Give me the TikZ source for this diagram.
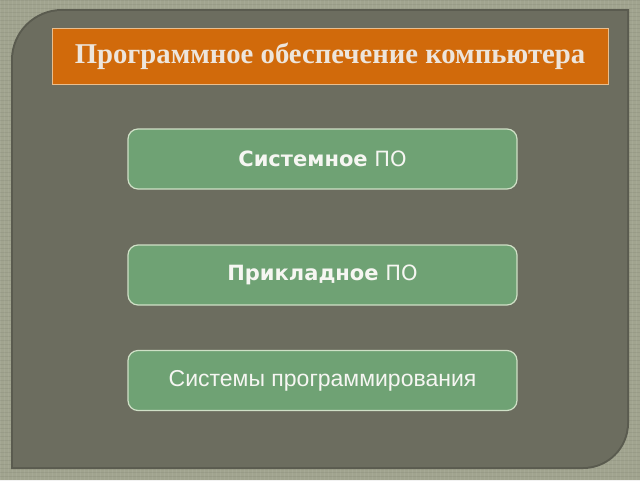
\documentclass[tikz,border=0pt]{standalone}
\usepackage{fontspec}
\setmainfont{Liberation Serif}
\newfontfamily\djv{DejaVu Sans}
\newfontfamily\lib{Liberation Sans}
\definecolor{bgc}{HTML}{A1A48F}
\definecolor{panelc}{HTML}{6C6D5F}
\definecolor{paneledge}{HTML}{5A5B4F}
\definecolor{titlec}{HTML}{D16A0B}
\definecolor{titleedge}{HTML}{E9BE8E}
\definecolor{titletext}{HTML}{EDE5DC}
\definecolor{boxc}{HTML}{6FA274}
\definecolor{boxedge}{HTML}{CFE0C6}
\definecolor{boxtext}{HTML}{F6F6F2}
\tikzset{
  itembox/.style={draw=boxedge, line width=1.2pt, fill=boxc, rounded corners=10pt,
    minimum width=389pt, minimum height=60pt, inner sep=0pt, text=boxtext},
  titlebox/.style={draw=titleedge, line width=1pt, fill=titlec,
    minimum width=556pt, minimum height=56pt, inner sep=0pt, text=titletext,
    font=\fontsize{28.7}{32}\selectfont\bfseries}
}
\begin{document}
\begin{tikzpicture}[x=1pt,y=-1pt]
\useasboundingbox (0,0) rectangle (640,480);
\fill[bgc] (0,0) rectangle (640,480);
% subtle texture
\foreach \i in {0,4,...,640} {\draw[white,opacity=0.06,line width=0.6pt] (\i,0) -- (\i,480);}
\foreach \j in {0,4,...,480} {\draw[black,opacity=0.05,line width=0.6pt] (0,\j) -- (640,\j);}
% panel shadow
\fill[paneledge] (11,469) -- (11,200) [rounded corners=51] -- (11,9) -- (200,9) [sharp corners] -- (629,9) -- (629,200) [rounded corners=46] -- (629,469) -- (400,469) [sharp corners] -- (11,469) -- cycle;
\fill[panelc] (13,467) -- (13,200) [rounded corners=49] -- (13,11) -- (200,11) [sharp corners] -- (627,11) -- (627,200) [rounded corners=44] -- (627,467) -- (400,467) [sharp corners] -- (13,467) -- cycle;
\node[titlebox] (title) at (330,56) {\raisebox{-3pt}{Программное обеспечение компьютера}};
\node[itembox, font=\djv\fontsize{21}{25}\selectfont] (sys) at (322.5,159) {\raisebox{-2pt}{\textbf{Системное} ПО}};
\node[itembox, font=\djv\fontsize{21}{25}\selectfont] (app) at (322.5,275) {\raisebox{-2pt}{\textbf{Прикладное} ПО}};
\node[itembox, font=\lib\fontsize{23}{27}\selectfont] (prog) at (322.5,380.5) {\raisebox{-2pt}{Системы программирования}};
\end{tikzpicture}
\end{document}
